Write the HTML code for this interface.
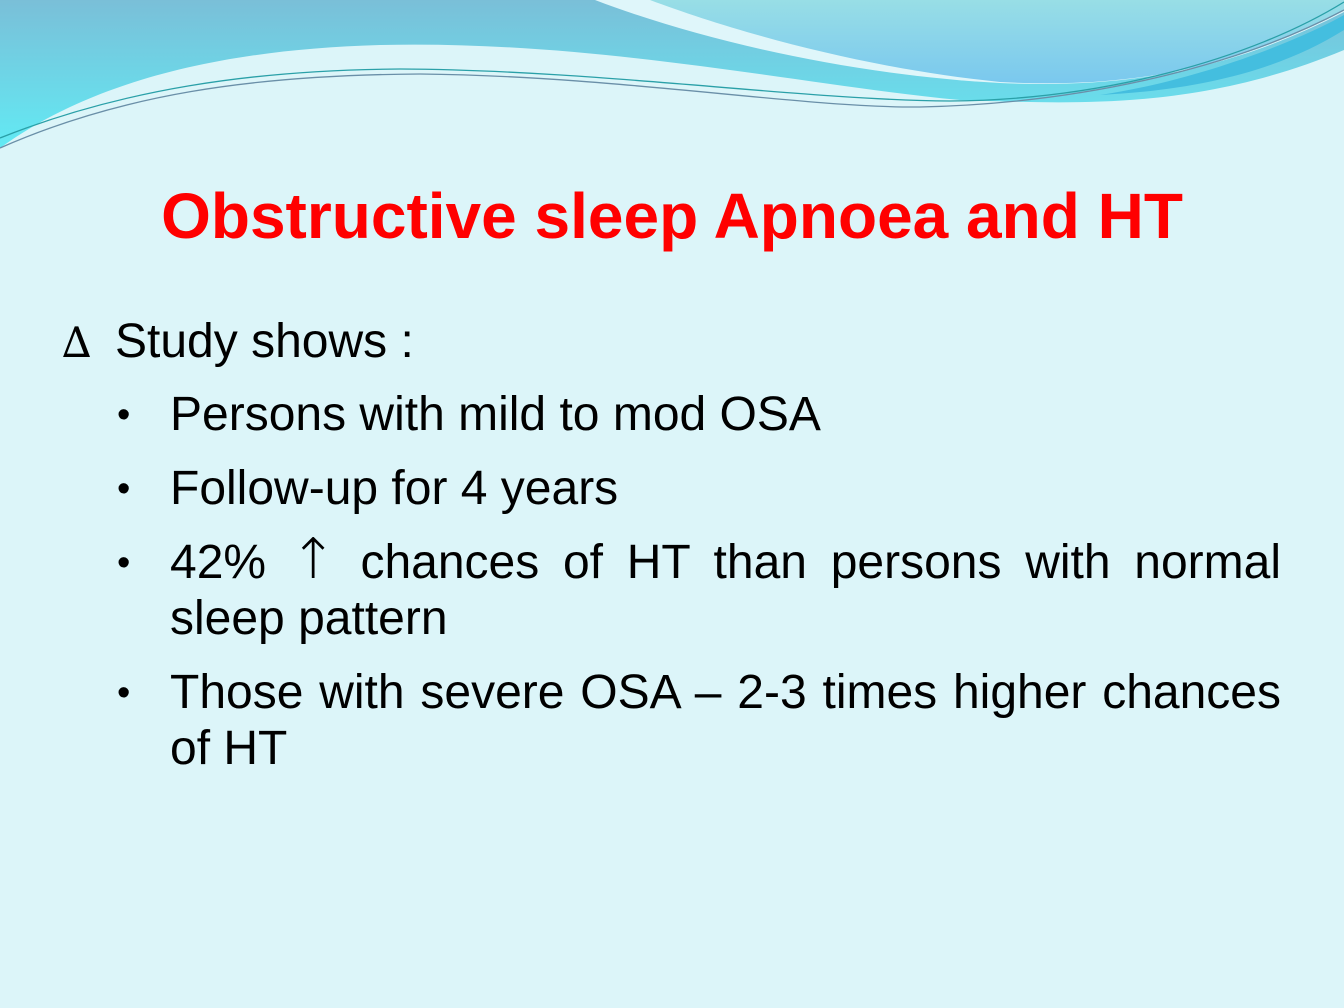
<!DOCTYPE html>
<html><head><meta charset="utf-8"><style>
html,body{margin:0;padding:0}
body{width:1344px;height:1008px;background:#dcf5f9;position:relative;overflow:hidden;font-family:"Liberation Sans",sans-serif}
svg{position:absolute;left:0;top:0}
.t{position:absolute;white-space:nowrap;color:#000;font-size:48px;line-height:56px}
h1{position:absolute;left:0;width:1344px;top:176px;margin:0;text-align:center;color:#ff0000;font-size:64px;font-weight:bold;line-height:80px}
.b{position:absolute;left:117px;font-size:38px;line-height:56px}
.j{text-align:justify;text-align-last:justify;width:1111px}
.ar{font-family:"DejaVu Sans",sans-serif;font-weight:200;font-size:56px;line-height:40px}
</style></head><body>
<svg width="1344" height="170" viewBox="0 0 1344 170">
<defs>
<linearGradient id="g1" x1="0" y1="0" x2="0" y2="1"><stop offset="0" stop-color="#7abfd8"/><stop offset="1" stop-color="#62eaf4"/></linearGradient>
<linearGradient id="g2" x1="0" y1="0" x2="0" y2="1"><stop offset="0" stop-color="#98dee6"/><stop offset="1" stop-color="#7ac8ee"/></linearGradient>
</defs>
<path d="M0,0 H1344 V50 C1200,110 1080,104 960,100 C800,85 600,40 380,45 C200,50 80,90 0,148 Z" fill="url(#g1)"/>
<path d="M595,0 H1344 V12 C1250,60 1150,90 1000,83 C850,75 700,40 595,0 Z" fill="#dff6fa"/>
<path d="M650,0 H1344 V10 C1250,60 1150,90 1000,82 C860,68 730,30 650,0 Z" fill="url(#g2)"/>
<path d="M1100,95 C1200,80 1300,40 1344,15 V30 C1280,70 1200,90 1100,95 Z" fill="#44bedf"/>
<path d="M0,138 C120,90 250,70 400,69 C600,70 800,100 950,101 C1100,100 1250,60 1344,2" fill="none" stroke="#2aa0a8" stroke-width="1.3"/>
<path d="M0,148 C120,95 250,75 420,74 C620,76 800,108 920,107 C1100,103 1250,60 1344,10" fill="none" stroke="#6a8fa8" stroke-width="1.3"/>
</svg>
<h1>Obstructive sleep Apnoea and HT</h1>
<div class="t" style="left:62px;top:314px"><span style="font-family:'DejaVu Serif',serif;font-size:42px;display:inline-block;width:53px">∆</span>Study shows :</div>
<div class="b" style="top:387px">•</div>
<div class="t" style="left:170px;top:387px">Persons with mild to mod OSA</div>
<div class="b" style="top:461px">•</div>
<div class="t" style="left:170px;top:461px">Follow-up for 4 years</div>
<div class="b" style="top:535px">•</div>
<div class="t j" style="left:170px;top:535px">42% <span class="ar">↑</span> chances of HT than persons with normal</div>
<div class="t" style="left:170px;top:591px">sleep pattern</div>
<div class="b" style="top:665px">•</div>
<div class="t j" style="left:170px;top:665px">Those with severe OSA – 2-3 times higher chances</div>
<div class="t" style="left:170px;top:721px">of HT</div>
</body></html>
